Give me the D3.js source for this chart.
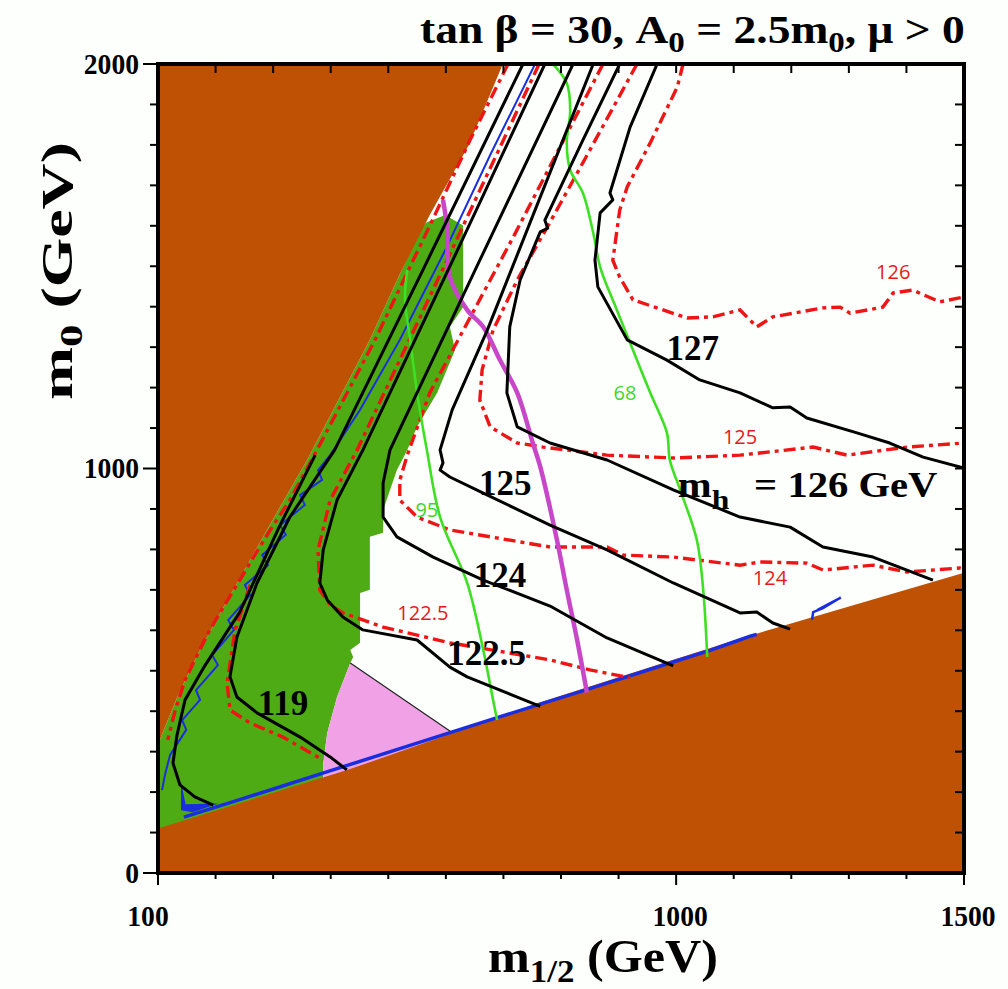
<!DOCTYPE html>
<html><head><meta charset="utf-8">
<script src="https://cdn.jsdelivr.net/npm/d3@7"></script>
<style>html,body{margin:0;padding:0;background:#fff;}svg{display:block;}</style>
</head><body><svg id="chart" width="1008" height="989"></svg>
<script>
// All curves are [m_1/2 (GeV), m_0 (GeV)] pairs.
const xTicks = d3.range(100, 1501, 100);
const xTickLabels = [100, 1000, 1500];
const yTicks = d3.range(0, 2001, 100);
const yTickLabels = [0, 1000, 2000];

// excluded regions
const noEwsbEdge = [[699,2000],[640,1800],[572,1627],[520,1480],[468,1318],[410,1160],[359,1021],[310,900],[260,774],[215,660],[173,551],[135,440],[100,318]];
const chargedLspEdge = [[100,110],[430,255],[760,420],[1100,575],[1500,742]];

// favoured / allowed bands
const gmuRegion = [[567,1609],[599,1627],[630,1601],[630,1399],[607,1350],[616,1293],[585,1187],[550,1103],[533,1046],[515,996],[503,947],[491,897],[491,841],[468,831],[468,700],[451,692],[451,569],[434,551],[439,534],[434,519],[411,435],[394,346],[387,272],[387,180],[100,60],[100,318],[135,440],[173,551],[215,660],[260,774],[310,900],[359,1021],[410,1160],[468,1318],[520,1480],[560,1600]];
const bsgRegion = [[434,519],[612,346],[612,250],[387,200],[387,272],[394,346],[411,435]];
const bsgEdge = [[434,519],[612,346]];

// black m_h contours
const mhInner = [[373,1033],[312,860],[242,645],[182,514],[147,428],[133,341],[126,272],[138,218],[164,188],[196,168]];
const mh119 = [[734,2000],[567,1511],[407,1046],[329,880],[272,717],[237,583],[225,485],[237,435],[272,396],[347,336],[399,287],[428,255]];
const mh1225 = [[772,2000],[612,1515],[456,1046],[411,922],[387,799],[381,717],[394,675],[421,633],[456,601],[550,576],[607,509],[637,485],[724,435],[764,412]];
const mh124 = [[821,2000],[659,1515],[503,1046],[491,964],[491,880],[515,831],[578,781],[665,724],[781,660],[880,581],[995,512]];
const mh125 = [[856,2000],[748,1614],[672,1342],[611,1145],[590,1046],[595,1014],[590,996],[607,979],[665,939],[781,860],[880,799],[995,717],[1111,643],[1140,645],[1168,618],[1198,603]];
const mh126 = [[902,2000],[838,1812],[772,1614],[777,1594],[764,1585],[729,1466],[711,1350],[706,1187],[724,1103],[781,1063],[880,1021],[995,947],[1111,880],[1198,855],[1255,806],[1342,781],[1446,724]];
const mh127 = [[967,2000],[920,1844],[885,1681],[890,1664],[868,1632],[859,1515],[864,1449],[915,1318],[984,1268],[1041,1219],[1111,1187],[1168,1150],[1198,1152],[1227,1125],[1314,1088],[1371,1063],[1429,1028],[1500,1001]];

// red dash-dot m_h contours
const rEdge = [[708,2000],[642,1812],[581,1627],[477,1318],[367,1021],[329,922],[295,848],[268,786],[242,724],[216,663],[190,601],[164,527],[147,477],[130,403],[117,329]];
const r119 = [[260,712],[234,601],[220,470],[225,403],[260,371],[317,336],[387,279]];
const r1225 = [[762,2000],[602,1515],[446,1046],[399,922],[378,799],[381,700],[399,663],[421,643],[491,608],[607,569],[781,527],[850,502],[920,483]];
const r124 = [[873,2000],[720,1580],[572,1187],[533,1033],[520,971],[520,922],[550,880],[607,848],[781,806],[880,806],[908,786],[995,781],[1111,761],[1146,769],[1227,766],[1255,749],[1342,761],[1401,744],[1493,754],[1500,752]];
const r125 = [[932,2000],[850,1787],[781,1609],[724,1466],[682,1342],[663,1244],[659,1169],[677,1103],[724,1063],[769,1053],[880,1033],[995,1026],[1111,1033],[1238,1053],[1297,1033],[1401,1053],[1500,1063]];
const r126 = [[1012,2000],[1002,1943],[955,1805],[915,1696],[902,1639],[890,1515],[902,1473],[925,1417],[1019,1372],[1064,1375],[1111,1392],[1140,1350],[1168,1375],[1255,1397],[1285,1399],[1302,1384],[1359,1399],[1377,1434],[1411,1441],[1458,1412],[1500,1424]];

// other constraints
const green68 = [[786,2000],[810,1953],[816,1886],[810,1805],[816,1738],[838,1681],[856,1582],[868,1498],[897,1392],[925,1293],[955,1187],[984,1088],[989,1021],[1007,947],[1036,823],[1047,700],[1054,534]];
const green95 = [[533,1491],[529,1417],[538,1318],[552,1169],[567,1046],[590,880],[637,717],[665,551],[682,428],[689,378]];
const magentaLine = [[595,1664],[602,1597],[607,1473],[637,1392],[665,1350],[694,1268],[724,1187],[751,1063],[764,1004],[793,823],[810,700],[828,576],[845,446]];
const blueStrip = [[145,138],[250,185],[400,253],[550,321],[700,389],[850,456],[1000,524],[1060,551],[1110,576],[1130,586],[1140,590]];
const blueHook = [[1236,626],[1238,645],[1255,655],[1286,681],[1262,663],[1245,650]];
const blueBlob = [[140,225],[148,170],[205,172],[160,150],[140,155]];
const blueZigzag = [[755,2000],[677,1775],[599,1540],[520,1318],[451,1145],[399,1033],[378,996],[385,972],[347,934],[355,910],[312,860],[322,836],[281,786],[291,761],[251,712],[260,687],[222,625],[232,601],[194,539],[204,514],[166,452],[173,428],[142,378],[149,354],[121,292],[112,242],[107,205]];

const blackLabels = [
  {t:"127", m:1029, m0:1268},
  {t:"125", m:703, m0:934},
  {t:"124", m:694, m0:707},
  {t:"122.5", m:671, m0:514},
  {t:"119", m:317, m0:391}
];
const redLabels = [
  {t:"126", m:1377, m0:1468},
  {t:"125", m:1111, m0:1061},
  {t:"124", m:1163, m0:712},
  {t:"122.5", m:560, m0:625}
];
const greenLabels = [
  {t:"68", m:911, m0:1169},
  {t:"95", m:567, m0:880}
];

const svg = d3.select("#chart");
const W = 1008, H = 989;
const x = d3.scaleLinear().domain([100, 1500]).range([158, 964]);
const y = d3.scaleLinear().domain([0, 2000]).range([873, 64]);
const serif = "'Liberation Serif','Times New Roman',serif";
const sans = "'Open Sans','Noto Sans',sans-serif";

svg.append("rect").attr("width", W).attr("height", H).attr("fill", "#fdfffd");

svg.append("defs").append("clipPath").attr("id", "plot")
  .append("rect").attr("x", x(100)).attr("y", y(2000))
  .attr("width", x(1500) - x(100)).attr("height", y(0) - y(2000));

const g = svg.append("g").attr("clip-path", "url(#plot)");
const line = d3.line().x(d => x(d[0])).y(d => y(d[1]));
const smooth = d3.line().x(d => x(d[0])).y(d => y(d[1])).curve(d3.curveCatmullRom.alpha(0.5));

g.append("path").attr("d", line(gmuRegion) + "Z").attr("fill", "#4fab14");
g.append("path").attr("d", line(bsgRegion) + "Z").attr("fill", "#f1a2e6");

g.append("path")
  .attr("d", line([[100, 2000], ...noEwsbEdge, [100, 0]]) + "Z")
  .attr("fill", "#bf5105");
g.append("path")
  .attr("d", line([[100, 0], ...chargedLspEdge, [1500, 0]]) + "Z")
  .attr("fill", "#bf5105");

g.append("path").attr("d", line(bsgEdge)).attr("fill", "none").attr("stroke", "#222").attr("stroke-width", 1.2);

// blue strips
g.append("path").attr("d", line(blueBlob) + "Z").attr("fill", "#1a2ee0");
g.append("path").attr("d", line(blueStrip)).attr("fill", "none").attr("stroke", "#1a2ee0").attr("stroke-width", 3.5);
g.append("path").attr("d", line(blueHook)).attr("fill", "none").attr("stroke", "#1a2ee0").attr("stroke-width", 2.5);
g.append("path").attr("d", line(blueZigzag)).attr("fill", "none").attr("stroke", "#1a2ee0").attr("stroke-width", 2);

const redDash = "12,5,4,5";
[rEdge, r119, r1225, r124, r125, r126].forEach(c => {
  g.append("path").attr("d", line(c)).attr("fill", "none")
    .attr("stroke", "#ee1515").attr("stroke-width", 3.4)
    .attr("stroke-dasharray", redDash);
});

[green68, green95].forEach(c => {
  g.append("path").attr("d", smooth(c)).attr("fill", "none")
    .attr("stroke", "#3ee023").attr("stroke-width", 2.6);
});
g.append("path").attr("d", smooth(magentaLine)).attr("fill", "none")
  .attr("stroke", "#c847c8").attr("stroke-width", 4.5);

[mhInner, mh119, mh1225, mh124, mh125, mh126, mh127].forEach(c => {
  g.append("path").attr("d", line(c)).attr("fill", "none")
    .attr("stroke", "#000").attr("stroke-width", 3).attr("stroke-linejoin", "round");
});

// fit a text node horizontally into [x0, x1]
function fitWidth(sel, x0, x1) {
  const b = sel.node().getBBox();
  const s = (x1 - x0) / b.width;
  sel.attr("transform", `translate(${x0 - b.x * s},0) scale(${s},1)`);
}

// in-plot labels
blackLabels.forEach(l => {
  svg.append("text").attr("x", x(l.m)).attr("y", y(l.m0)).attr("text-anchor", "middle")
    .attr("font-family", serif).attr("font-weight", "bold").attr("font-size", 35).text(l.t);
});
redLabels.forEach(l => {
  svg.append("text").attr("x", x(l.m)).attr("y", y(l.m0)).attr("text-anchor", "middle")
    .attr("font-family", sans).attr("font-size", 20).attr("fill", "#e51a1a").text(l.t);
});
greenLabels.forEach(l => {
  svg.append("text").attr("x", x(l.m)).attr("y", y(l.m0)).attr("text-anchor", "middle")
    .attr("font-family", sans).attr("font-size", 20).attr("fill", "#3ed82a").text(l.t);
});
const mhLab = svg.append("text").attr("x", 0).attr("y", y(930))
  .attr("font-family", serif).attr("font-weight", "bold").attr("font-size", 36);
mhLab.append("tspan").text("m");
mhLab.append("tspan").attr("dy", 12).attr("font-size", 28).text("h");
mhLab.append("tspan").attr("dy", -12).attr("dx", 22).text("= 126 GeV");
fitWidth(mhLab, x(1003), x(1454));

// frame and ticks
const frame = svg.append("g");
frame.append("rect").attr("x", x(100)).attr("y", y(2000))
  .attr("width", x(1500) - x(100)).attr("height", y(0) - y(2000))
  .attr("fill", "none").attr("stroke", "#000").attr("stroke-width", 4);

xTicks.forEach(v => {
  const major = xTickLabels.includes(v);
  frame.append("line").attr("x1", x(v)).attr("x2", x(v))
    .attr("y1", y(0)).attr("y2", y(0) + (major ? 12 : 6)).attr("stroke", "#000").attr("stroke-width", 2);
  frame.append("line").attr("x1", x(v)).attr("x2", x(v))
    .attr("y1", y(2000)).attr("y2", y(2000) + 9).attr("stroke", "#000").attr("stroke-width", 2);
});
yTicks.forEach(v => {
  const major = yTickLabels.includes(v);
  frame.append("line").attr("x1", x(100)).attr("x2", x(100) - (major ? 15 : 8))
    .attr("y1", y(v)).attr("y2", y(v)).attr("stroke", "#000").attr("stroke-width", 2);
  frame.append("line").attr("x1", x(1500)).attr("x2", x(1500) - 9)
    .attr("y1", y(v)).attr("y2", y(v)).attr("stroke", "#000").attr("stroke-width", 2);
});
xTickLabels.forEach(v => {
  const cx = x(v) + (v === 100 ? -10 : 4);
  frame.append("text").attr("x", cx).attr("y", 926).attr("text-anchor", "middle")
    .attr("font-family", serif).attr("font-weight", "bold").attr("font-size", 30)
    .attr("transform", `translate(${cx},0) scale(0.92,1) translate(${-cx},0)`).text(v);
});
yTickLabels.forEach(v => {
  frame.append("text").attr("x", 139).attr("y", y(v) + 10).attr("text-anchor", "end")
    .attr("font-family", serif).attr("font-weight", "bold").attr("font-size", 30)
    .attr("transform", "translate(139,0) scale(0.92,1) translate(-139,0)").text(v);
});

const title = svg.append("text").attr("x", 0).attr("y", 43)
  .attr("font-family", serif).attr("font-weight", "bold").attr("font-size", 40);
title.append("tspan").text("tan \u03b2 = 30, A");
title.append("tspan").attr("dy", 9).attr("font-size", 29).text("0");
title.append("tspan").attr("dy", -9).text(" = 2.5m");
title.append("tspan").attr("dy", 9).attr("font-size", 29).text("0");
title.append("tspan").attr("dy", -9).text(",  \u03bc > 0");
fitWidth(title, 420, 965);

const xLab = svg.append("text").attr("x", 0).attr("y", 972)
  .attr("font-family", serif).attr("font-weight", "bold").attr("font-size", 46);
xLab.append("tspan").text("m");
xLab.append("tspan").attr("dy", 10).attr("font-size", 32).text("1/2");
xLab.append("tspan").attr("dy", -10).text(" (GeV)");
fitWidth(xLab, 488, 718);

const yLabG = svg.append("g").attr("transform", "translate(72,400) rotate(-90)");
const yLab = yLabG.append("text").attr("x", 0).attr("y", 0)
  .attr("font-family", serif).attr("font-weight", "bold").attr("font-size", 44);
yLab.append("tspan").text("m");
yLab.append("tspan").attr("dy", 10).attr("font-size", 31).text("0");
yLab.append("tspan").attr("dy", -10).text(" (GeV)");
fitWidth(yLab, 0, 258);
</script>
</body></html>
